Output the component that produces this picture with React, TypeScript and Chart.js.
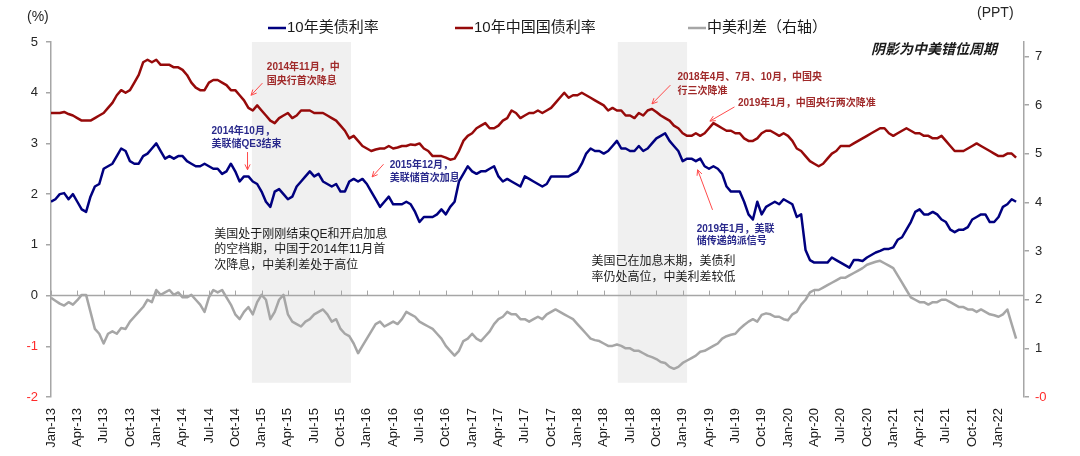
import React, { useEffect, useRef } from 'react';
import { Chart, registerables } from 'chart.js';

Chart.register(...registerables);

// Quarterly tick labels, Jan-13 .. Jan-22 (one tick every three months)
const quarterLabels = [
  'Jan-13', 'Apr-13', 'Jul-13', 'Oct-13', 'Jan-14', 'Apr-14', 'Jul-14', 'Oct-14',
  'Jan-15', 'Apr-15', 'Jul-15', 'Oct-15', 'Jan-16', 'Apr-16', 'Jul-16', 'Oct-16',
  'Jan-17', 'Apr-17', 'Jul-17', 'Oct-17', 'Jan-18', 'Apr-18', 'Jul-18', 'Oct-18',
  'Jan-19', 'Apr-19', 'Jul-19', 'Oct-19', 'Jan-20', 'Apr-20', 'Jul-20', 'Oct-20',
  'Jan-21', 'Apr-21', 'Jul-21', 'Oct-21', 'Jan-22',
];

// Twice-monthly observations (start and middle of each month) from Jan 2013.
// 10Y US Treasury yield, %
const usYield = [
  1.85, 1.9, 2.0, 2.02, 1.9, 2.0, 1.85, 1.7, 1.65, 1.95, 2.15, 2.2,
  2.5, 2.55, 2.6, 2.75, 2.9, 2.85, 2.65, 2.6, 2.6, 2.75, 2.8, 2.9,
  3.0, 2.85, 2.7, 2.75, 2.7, 2.75, 2.75, 2.65, 2.6, 2.55, 2.55, 2.6,
  2.55, 2.5, 2.5, 2.4, 2.45, 2.6, 2.45, 2.25, 2.35, 2.35, 2.25, 2.2,
  2.05, 1.85, 1.75, 2.05, 2.1, 2.0, 1.9, 1.95, 2.15, 2.25, 2.35, 2.45,
  2.35, 2.4, 2.25, 2.2, 2.15, 2.2, 2.05, 2.05, 2.25, 2.3, 2.25, 2.3,
  2.2, 2.05, 1.9, 1.75, 1.85, 1.95, 1.8, 1.8, 1.8, 1.85, 1.8, 1.65,
  1.45, 1.55, 1.55, 1.55, 1.6, 1.7, 1.6, 1.75, 1.85, 2.25, 2.4, 2.55,
  2.45, 2.4, 2.45, 2.45, 2.5, 2.55, 2.35, 2.25, 2.3, 2.25, 2.2, 2.15,
  2.35, 2.3, 2.25, 2.2, 2.15, 2.2, 2.35, 2.35, 2.35, 2.35, 2.35, 2.4,
  2.45, 2.6, 2.8, 2.9, 2.85, 2.85, 2.8, 2.85, 2.95, 3.05, 2.9, 2.9,
  2.85, 2.85, 2.95, 2.85, 2.9, 3.0, 3.1, 3.15, 3.2, 3.05, 2.95, 2.85,
  2.65, 2.7, 2.7, 2.65, 2.7, 2.55, 2.5, 2.55, 2.5, 2.4, 2.15, 2.05,
  2.05, 2.05, 1.85, 1.6, 1.5, 1.85, 1.6, 1.75, 1.8, 1.85, 1.8, 1.9,
  1.85, 1.8, 1.55, 1.6, 0.9, 0.7, 0.65, 0.65, 0.65, 0.65, 0.75, 0.7,
  0.65, 0.6, 0.55, 0.7, 0.7, 0.68, 0.75, 0.8, 0.85, 0.88, 0.92, 0.92,
  0.95, 1.1, 1.15, 1.3, 1.45, 1.65, 1.7, 1.6, 1.6, 1.65, 1.6, 1.5,
  1.45, 1.3, 1.25, 1.3, 1.3, 1.35, 1.5, 1.55, 1.6, 1.6, 1.45, 1.45,
  1.55, 1.75, 1.8, 1.9, 1.85,
];

// 10Y China government bond yield, %
const cnYield = [
  3.6, 3.6, 3.6, 3.62, 3.58, 3.55, 3.5, 3.45, 3.45, 3.45, 3.5, 3.55,
  3.6, 3.7, 3.8, 3.95, 4.05, 4.0, 4.05, 4.2, 4.35, 4.6, 4.65, 4.6,
  4.65, 4.55, 4.55, 4.55, 4.5, 4.5, 4.45, 4.35, 4.2, 4.1, 4.05, 4.05,
  4.2, 4.25, 4.25, 4.2, 4.15, 4.05, 4.05, 3.95, 3.85, 3.7, 3.65, 3.75,
  3.65, 3.55, 3.45, 3.4, 3.5, 3.55, 3.6, 3.5, 3.55, 3.65, 3.65, 3.65,
  3.6, 3.6, 3.6, 3.55, 3.5, 3.45, 3.35, 3.25, 3.1, 3.15, 3.05, 2.95,
  2.9, 2.85, 2.88, 2.9, 2.9, 2.95, 2.9, 2.92, 2.95, 2.95, 2.98, 2.97,
  3.0, 2.9, 2.85, 2.75, 2.75, 2.75, 2.72, 2.68, 2.7, 2.85, 3.05, 3.15,
  3.2, 3.3, 3.35, 3.4, 3.3, 3.3, 3.35, 3.45, 3.5, 3.65, 3.6, 3.5,
  3.55, 3.6, 3.6, 3.65, 3.6, 3.65, 3.7, 3.8, 3.9, 4.0, 3.9, 3.95,
  3.95, 4.0, 3.95, 3.9, 3.85, 3.8, 3.75, 3.65, 3.7, 3.65, 3.65, 3.55,
  3.55, 3.5, 3.6, 3.55, 3.65, 3.68, 3.62, 3.55, 3.5, 3.45, 3.35, 3.3,
  3.2, 3.15, 3.15, 3.2, 3.15, 3.2, 3.3, 3.4, 3.35, 3.3, 3.25, 3.25,
  3.2, 3.2, 3.1, 3.05, 3.05, 3.1, 3.2, 3.25, 3.25, 3.2, 3.15, 3.2,
  3.15, 3.05, 2.9, 2.85, 2.75, 2.65, 2.6, 2.55, 2.6, 2.7, 2.8, 2.85,
  2.95, 2.95, 2.95, 3.0, 3.05, 3.1, 3.15, 3.2, 3.25, 3.3, 3.3, 3.2,
  3.15, 3.2, 3.25, 3.3, 3.25, 3.2, 3.2, 3.15, 3.15, 3.1, 3.1, 3.15,
  3.05, 2.95, 2.85, 2.85, 2.85, 2.9, 2.95, 3.0, 2.95, 2.9, 2.85, 2.8,
  2.75, 2.75, 2.8, 2.8, 2.72,
];

// China-US 10Y spread, right axis (PPT)
const cnUsSpread = [
  2.04, 1.98, 1.92, 1.88, 1.95, 1.9, 1.99, 2.1, 2.1, 1.75, 1.4, 1.3,
  1.1, 1.3, 1.35, 1.3, 1.42, 1.4, 1.55, 1.65, 1.75, 1.85, 2.0, 1.95,
  2.2, 2.1, 2.15, 2.2, 2.1, 2.15, 2.05, 2.05, 2.1, 2.0, 1.9, 1.75,
  2.05, 2.2, 2.15, 2.2, 2.05, 1.9, 1.7, 1.6, 1.75, 1.85, 1.7, 1.95,
  2.1, 2.0, 1.6, 1.75, 2.0, 2.1, 1.7, 1.55, 1.5, 1.45, 1.55, 1.6,
  1.7, 1.75, 1.8, 1.7, 1.55, 1.6, 1.4, 1.3, 1.25, 1.1, 0.9, 1.05,
  1.2, 1.35, 1.5, 1.55, 1.45, 1.5, 1.55, 1.5, 1.6, 1.75, 1.7, 1.65,
  1.55, 1.5, 1.45, 1.4, 1.3, 1.2, 1.05, 0.95, 0.85, 0.95, 1.15, 1.2,
  1.3, 1.2, 1.15, 1.25, 1.35, 1.5, 1.6, 1.65, 1.75, 1.7, 1.7, 1.6,
  1.6, 1.55, 1.6, 1.65, 1.6, 1.7, 1.75, 1.8, 1.75, 1.7, 1.65, 1.6,
  1.5, 1.4, 1.3, 1.2, 1.17, 1.15, 1.1, 1.05, 1.05, 1.08, 1.05, 1.0,
  1.0, 0.95, 0.95, 0.9, 0.85, 0.82, 0.78, 0.72, 0.7, 0.62, 0.58, 0.62,
  0.7, 0.75, 0.8, 0.85, 0.93, 0.95, 1.0, 1.05, 1.1, 1.2, 1.25, 1.28,
  1.3, 1.4, 1.48, 1.55, 1.6, 1.55, 1.69, 1.72, 1.7, 1.65, 1.65, 1.6,
  1.58, 1.7, 1.75, 1.9, 2.0, 2.15, 2.2, 2.2, 2.25, 2.3, 2.35, 2.4,
  2.45, 2.45, 2.5, 2.55, 2.6, 2.65, 2.72, 2.75, 2.78, 2.8, 2.75, 2.7,
  2.65, 2.5, 2.35, 2.2, 2.05, 2.0, 1.95, 1.95, 1.9, 1.95, 1.95, 2.0,
  2.0, 1.95, 1.9, 1.85, 1.85, 1.8, 1.8, 1.75, 1.8, 1.75, 1.7, 1.68,
  1.65, 1.7, 1.8, 1.5, 1.2,
];

// Shaded "out of phase" periods, in months since Jan 2013
const shadedPeriods: [number, number][] = [
  [22.9, 34.2],
  [64.6, 72.5],
];

const FONT = '"Liberation Sans", Arial, "Noto Sans CJK SC", sans-serif';
const CN_COLOR = '#960a0a';
const US_COLOR = '#00007f';
const SPREAD_COLOR = '#a6a6a6';
const NOTE_RED = '#a02a2a';
const NOTE_BLUE = '#2a2a8c';
const ARROW = '#ff4b4b';

type Pt = [number, number];
type Note = {
  lines: string[];
  at: Pt; // [month, % on left axis] of the first line's left/middle
  color: string;
  size: number;
  bold: boolean;
  gap: number;
  arrow?: { from: Pt; to: Pt };
};

const notes: Note[] = [
  { lines: ['2014年11月，中', '国央行首次降息'], at: [24.6, 4.5], color: NOTE_RED, size: 10, bold: true, gap: 14,
    arrow: { from: [24.1, 4.19], to: [22.8, 3.95] } },
  { lines: ['2014年10月，', '美联储QE3结束'], at: [18.3, 3.24], color: NOTE_BLUE, size: 10, bold: true, gap: 13,
    arrow: { from: [22.4, 2.83], to: [22.4, 2.48] } },
  { lines: ['2015年12月，', '美联储首次加息'], at: [38.6, 2.57], color: NOTE_BLUE, size: 10, bold: true, gap: 13,
    arrow: { from: [37.9, 2.59], to: [36.6, 2.34] } },
  { lines: ['2018年4月、7月、10月，中国央', '行三次降准'], at: [71.4, 4.31], color: NOTE_RED, size: 10, bold: true, gap: 14,
    arrow: { from: [70.6, 4.15], to: [68.5, 3.78] } },
  { lines: ['2019年1月，中国央行两次降准'], at: [78.3, 3.8], color: NOTE_RED, size: 10, bold: true, gap: 14,
    arrow: { from: [77.9, 3.72], to: [75.1, 3.44] } },
  { lines: ['2019年1月，美联', '储传递鸽派信号'], at: [73.6, 1.31], color: NOTE_BLUE, size: 10, bold: true, gap: 12,
    arrow: { from: [75.4, 1.69], to: [73.7, 2.48] } },
  { lines: ['美国处于刚刚结束QE和开启加息', '的空档期，中国于2014年11月首', '次降息，中美利差处于高位'],
    at: [18.6, 1.21], color: '#1a1a1a', size: 12, bold: false, gap: 15.5 },
  { lines: ['美国已在加息末期，美债利', '率仍处高位，中美利差较低'],
    at: [61.6, 0.66], color: '#1a1a1a', size: 12, bold: false, gap: 16 },
];

const legendItems = [
  { label: '10年美债利率', color: US_COLOR },
  { label: '10年中国国债利率', color: CN_COLOR },
  { label: '中美利差（右轴）', color: SPREAD_COLOR },
];

function drawArrow(ctx: CanvasRenderingContext2D, x0: number, y0: number, x1: number, y1: number) {
  const ang = Math.atan2(y1 - y0, x1 - x0);
  const head = 6;
  ctx.strokeStyle = ARROW;
  ctx.lineWidth = 1;
  ctx.beginPath();
  ctx.moveTo(x0, y0);
  ctx.lineTo(x1, y1);
  ctx.moveTo(x1, y1);
  ctx.lineTo(x1 - head * Math.cos(ang - 0.45), y1 - head * Math.sin(ang - 0.45));
  ctx.moveTo(x1, y1);
  ctx.lineTo(x1 - head * Math.cos(ang + 0.45), y1 - head * Math.sin(ang + 0.45));
  ctx.stroke();
}

const overlayPlugin = {
  id: 'overlay',
  beforeDatasetsDraw(chart: any) {
    const { ctx, chartArea, scales } = chart;
    const x = scales.x;
    const y = scales.y;
    ctx.save();
    ctx.fillStyle = '#f0f0f0';
    const yTop = y.getPixelForValue(5);
    const yBot = y.getPixelForValue(-1.72);
    for (const [a, b] of shadedPeriods) {
      const x0 = x.getPixelForValue(a);
      const x1 = x.getPixelForValue(b);
      ctx.fillRect(x0, yTop, x1 - x0, yBot - yTop);
    }
    // horizontal axis line at 0 with quarterly tick marks
    const y0 = y.getPixelForValue(0);
    ctx.strokeStyle = '#a6a6a6';
    ctx.lineWidth = 1.5;
    ctx.beginPath();
    ctx.moveTo(chartArea.left, y0);
    ctx.lineTo(chartArea.right, y0);
    ctx.stroke();
    ctx.lineWidth = 1;
    for (let i = 0; i < quarterLabels.length; i++) {
      const px = Math.round(x.getPixelForValue(i * 3)) + 0.5;
      ctx.beginPath();
      ctx.moveTo(px, y0);
      ctx.lineTo(px, y0 - 5);
      ctx.stroke();
    }
    ctx.restore();
  },
  afterDraw(chart: any) {
    const { ctx, chartArea, scales } = chart;
    const x = scales.x;
    const y = scales.y;
    ctx.save();

    // annotations
    for (const n of notes) {
      ctx.font = `${n.bold ? 'bold ' : ''}${n.size}px ${FONT}`;
      ctx.fillStyle = n.color;
      ctx.textAlign = 'left';
      ctx.textBaseline = 'middle';
      const px = x.getPixelForValue(n.at[0]);
      const py = y.getPixelForValue(n.at[1]);
      n.lines.forEach((line, i) => ctx.fillText(line, px, py + i * n.gap));
      if (n.arrow) {
        drawArrow(
          ctx,
          x.getPixelForValue(n.arrow.from[0]), y.getPixelForValue(n.arrow.from[1]),
          x.getPixelForValue(n.arrow.to[0]), y.getPixelForValue(n.arrow.to[1]),
        );
      }
    }

    // legend
    const legendX = [268, 455, 688];
    ctx.font = `15px ${FONT}`;
    ctx.textBaseline = 'middle';
    legendItems.forEach((it, i) => {
      const lx = legendX[i];
      ctx.strokeStyle = it.color;
      ctx.lineWidth = 2.5;
      ctx.beginPath();
      ctx.moveTo(lx, 28);
      ctx.lineTo(lx + 18, 28);
      ctx.stroke();
      ctx.fillStyle = '#1a1a1a';
      ctx.textAlign = 'left';
      ctx.fillText(it.label, lx + 19, 28);
    });

    // axis units
    ctx.font = `14px ${FONT}`;
    ctx.fillStyle = '#262626';
    ctx.textAlign = 'left';
    ctx.fillText('(%)', 27, 17);
    ctx.fillText('(PPT)', 977, 13);

    // shading note
    ctx.font = `italic bold 14px ${FONT}`;
    ctx.textAlign = 'right';
    ctx.fillStyle = '#1a1a1a';
    ctx.fillText('阴影为中美错位周期', chartArea.right - 27, 50);

    ctx.restore();
  },
};

export default function App() {
  const ref = useRef<HTMLCanvasElement | null>(null);

  useEffect(() => {
    document.body.style.margin = '0';
    const canvas = ref.current;
    if (!canvas) return;
    // two observations per month -> x in months since Jan 2013
    const toPts = (arr: number[]) => arr.map((v, i) => ({ x: i / 2, y: v }));
    const line = { borderWidth: 2.5, pointRadius: 0, tension: 0, borderJoinStyle: 'round' as const };
    const chart = new Chart(canvas, {
      type: 'line',
      data: {
        datasets: [
          { label: '10年美债利率', data: toPts(usYield), borderColor: US_COLOR, yAxisID: 'y', ...line },
          { label: '10年中国国债利率', data: toPts(cnYield), borderColor: CN_COLOR, yAxisID: 'y', ...line },
          { label: '中美利差（右轴）', data: toPts(cnUsSpread), borderColor: SPREAD_COLOR, yAxisID: 'y1', ...line },
        ],
      },
      options: {
        animation: false,
        responsive: true,
        maintainAspectRatio: false,
        devicePixelRatio: 1,
        layout: { padding: { top: 42, left: 0, right: 0, bottom: 0 } },
        plugins: { legend: { display: false }, tooltip: { enabled: false } },
        scales: {
          x: {
            type: 'linear',
            min: 0,
            max: 110.9,
            afterBuildTicks: (s: any) => {
              s.ticks = quarterLabels.map((_, i) => ({ value: i * 3 }));
            },
            afterFit: (s: any) => { s.height = 59; },
            ticks: {
              autoSkip: false,
              maxRotation: 90,
              minRotation: 90,
              padding: 11,
              color: '#1a1a1a',
              font: { family: FONT, size: 13 },
              callback: (_v: any, i: number) => quarterLabels[i],
            },
            grid: { display: false, drawTicks: false },
            border: { display: false },
          },
          y: {
            position: 'left',
            min: -2,
            max: 5,
            afterBuildTicks: (s: any) => {
              s.ticks = [-2, -1, 0, 1, 2, 3, 4, 5].map((v) => ({ value: v }));
            },
            afterFit: (s: any) => { s.width = 51; },
            ticks: {
              padding: 8,
              font: { family: FONT, size: 13 },
              color: (c: any) => (c.tick && c.tick.value < 0 ? '#ff2a2a' : '#262626'),
            },
            grid: { drawOnChartArea: false, drawTicks: true, tickLength: 5, color: '#a6a6a6', lineWidth: 1.5 },
            border: { color: '#a6a6a6', width: 1.5 },
          },
          y1: {
            position: 'right',
            min: 0,
            max: 7.3,
            afterBuildTicks: (s: any) => {
              s.ticks = [0, 1, 2, 3, 4, 5, 6, 7].map((v) => ({ value: v }));
            },
            afterFit: (s: any) => { s.width = 56; },
            ticks: {
              padding: 6,
              font: { family: FONT, size: 13 },
              color: (c: any) => (c.tick && c.tick.value === 0 ? '#ff2a2a' : '#262626'),
              callback: (v: any) => (v === 0 ? '-0' : String(v)),
            },
            grid: { drawOnChartArea: false, drawTicks: true, tickLength: 5, color: '#a6a6a6', lineWidth: 1.5 },
            border: { color: '#a6a6a6', width: 1.5 },
          },
        },
      },
      plugins: [overlayPlugin],
    });
    return () => chart.destroy();
  }, []);

  return (
    <div style={{ width: 1080, height: 456, position: 'relative', background: '#fff' }}>
      <canvas ref={ref} />
    </div>
  );
}
